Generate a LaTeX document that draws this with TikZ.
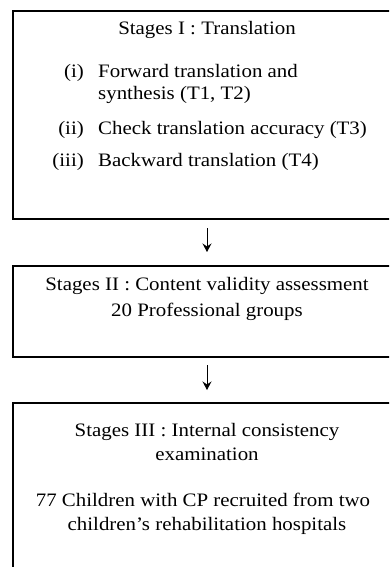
\documentclass[tikz,border=0pt]{standalone}
\usepackage{fontspec}
\setmainfont{Liberation Serif}[FakeStretch=1.1]
\usetikzlibrary{arrows.meta}
\tikzset{
  stagebox/.style={draw, line width=1.8pt, inner sep=0pt, outer sep=0pt},
  txt/.style={anchor=base, inner sep=0pt, font=\fontsize{19}{23}\selectfont},
  lbl/.style={anchor=base east, inner sep=0pt, font=\fontsize{19}{23}\selectfont},
  itm/.style={anchor=base west, inner sep=0pt, font=\fontsize{19}{23}\selectfont},
  flow/.style={line width=0.9pt, -{Stealth[length=8.5pt,width=9pt,inset=3pt]}}
}
\begin{document}
\begin{tikzpicture}[x=1pt,y=-1pt]
\useasboundingbox (0,0) rectangle (389,567);
\clip (0,0) rectangle (389,567);
% boxes
\node[stagebox, minimum width=388pt, minimum height=208pt] (box1) at (207,115) {};
\node[stagebox, minimum width=388pt, minimum height=91pt] (box2) at (207,311.5) {};
\node[stagebox, minimum width=388pt, minimum height=197pt] (box3) at (207,501.5) {};
% stage I text
\node[txt] (t1) at (207,34.5) {Stages I : Translation};
\node[lbl] (l1) at (84,78) {(i)};
\node[itm] (i1a) at (98,78) {Forward translation and};
\node[itm] (i1b) at (98,100) {synthesis (T1, T2)};
\node[lbl] (l2) at (84,134.5) {(ii)};
\node[itm] (i2) at (98,134.5) {Check translation accuracy (T3)};
\node[lbl] (l3) at (84,166) {(iii)};
\node[itm] (i3) at (98,166) {Backward translation (T4)};
% stage II text
\node[txt] (t2a) at (207,290.5) {Stages II : Content validity assessment};
\node[txt] (t2b) at (207,316) {20 Professional groups};
% stage III text
\node[txt] (t3a) at (207,436) {Stages III : Internal consistency};
\node[txt] (t3b) at (207,460.5) {examination};
\node[txt] (t3c) at (203,506.5) {77 Children with CP recruited from two};
\node[txt] (t3d) at (207,530) {children’s rehabilitation hospitals};
% arrows
\draw[flow, shorten <=9pt, shorten >=14pt] (box1.south) -- (box2.north);
\draw[flow, shorten <=8pt, shorten >=13pt] (box2.south) -- (box3.north);
\end{tikzpicture}
\end{document}
